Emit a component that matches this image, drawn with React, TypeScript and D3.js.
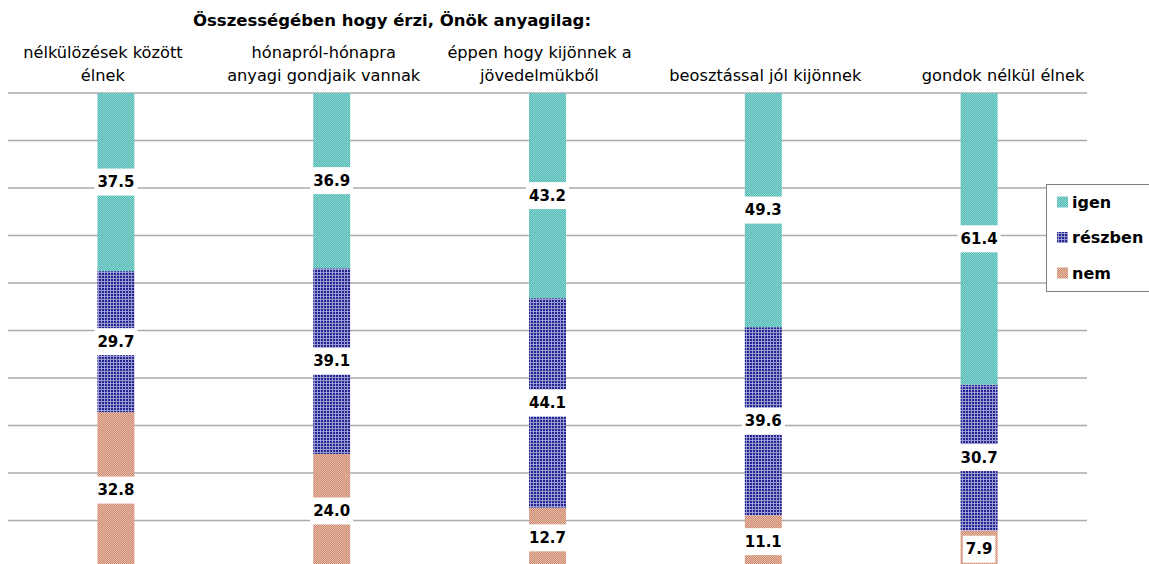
import React, { useEffect, useRef } from "react";
import * as d3 from "d3";

const categories = [
  ["nélkülözések között", "élnek"],
  ["hónapról-hónapra", "anyagi gondjaik vannak"],
  ["éppen hogy kijönnek a", "jövedelmükből"],
  ["beosztással jól kijönnek"],
  ["gondok nélkül élnek"],
];
const seriesNames = ["nem", "részben", "igen"];
const nemValues = [32.8, 24.0, 12.7, 11.1, 7.9];
const reszbenValues = [29.7, 39.1, 44.1, 39.6, 30.7];
const igenValues = [37.5, 36.9, 43.2, 49.3, 61.4];
const gridTicks = [10, 20, 30, 40, 50, 60, 70, 80, 90, 100];
const title = "Összességében hogy érzi, Önök anyagilag:";

// layout: horizontal shift of each category caption relative to its bar
const captionShift = [-13, -8, -8, 2, 24];

const W = 1149;
const H = 564;

export default function App() {
  const ref = useRef<SVGSVGElement>(null);

  useEffect(() => {
    const svg = d3.select(ref.current!);
    svg.selectAll("*").remove();

    const defs = svg.append("defs");
    const p1 = defs.append("pattern").attr("id", "p-igen").attr("width", 2).attr("height", 2).attr("patternUnits", "userSpaceOnUse");
    p1.append("rect").attr("width", 2).attr("height", 2).attr("fill", "#52b8b4");
    p1.append("rect").attr("width", 1).attr("height", 1).attr("fill", "#8ed6d2");
    p1.append("rect").attr("x", 1).attr("y", 1).attr("width", 1).attr("height", 1).attr("fill", "#8ed6d2");
    const p2 = defs.append("pattern").attr("id", "p-reszben").attr("width", 3).attr("height", 3).attr("patternUnits", "userSpaceOnUse");
    p2.append("rect").attr("width", 3).attr("height", 3).attr("fill", "#9a9ad2");
    p2.append("rect").attr("width", 2).attr("height", 2).attr("fill", "#25258f");
    const p3 = defs.append("pattern").attr("id", "p-nem").attr("width", 2).attr("height", 2).attr("patternUnits", "userSpaceOnUse");
    p3.append("rect").attr("width", 2).attr("height", 2).attr("fill", "#cc8c72");
    p3.append("rect").attr("width", 1).attr("height", 1).attr("fill", "#e9bba6");
    p3.append("rect").attr("x", 1).attr("y", 1).attr("width", 1).attr("height", 1).attr("fill", "#e9bba6");

    const fills: Record<string, string> = {
      nem: "url(#p-nem)",
      "részben": "url(#p-reszben)",
      igen: "url(#p-igen)",
    };

    const plotLeft = 8;
    const plotRight = 1087;
    const y = d3.scaleLinear().domain([0, 100]).range([568, 93]);
    const x = d3
      .scaleBand<number>()
      .domain(d3.range(categories.length))
      .range([plotLeft, plotRight])
      .paddingInner(0)
      .paddingOuter(0);
    const barW = 37;

    svg
      .append("g")
      .selectAll("line")
      .data(gridTicks)
      .join("line")
      .attr("x1", plotLeft)
      .attr("x2", plotRight)
      .attr("y1", (d) => y(d))
      .attr("y2", (d) => y(d))
      .attr("stroke", "#ababab")
      .attr("stroke-width", 1.5);

    const table = categories.map((c, i) => ({
      i,
      nem: nemValues[i],
      "részben": reszbenValues[i],
      igen: igenValues[i],
    }));
    const stack = d3.stack<any>().keys(seriesNames)(table);

    const bars = svg.append("g");
    stack.forEach((layer) => {
      bars
        .append("g")
        .selectAll("rect")
        .data(layer)
        .join("rect")
        .attr("x", (d: any) => x(d.data.i)! + x.bandwidth() / 2 - barW / 2)
        .attr("width", barW)
        .attr("y", (d: any) => y(d[1]))
        .attr("height", (d: any) => y(d[0]) - y(d[1]))
        .attr("fill", fills[layer.key]);
    });

    const lab = svg.append("g");
    stack.forEach((layer) => {
      layer.forEach((d: any) => {
        const cx = x(d.data.i)! + x.bandwidth() / 2;
        const cy = (y(d[0]) + y(d[1])) / 2;
        const g = lab.append("g");
        const r = g.append("rect").attr("fill", "#ffffff");
        const t = g
          .append("text")
          .attr("x", cx)
          .attr("y", cy)
          .attr("text-anchor", "middle")
          .attr("dominant-baseline", "central")
          .attr("font-family", "DejaVu Sans")
          .attr("font-weight", "bold")
          .attr("font-size", 15)
          .attr("fill", "#000")
          .text((d.data[layer.key] as number).toFixed(1));
        const w = (t.node() as SVGTextElement).getComputedTextLength();
        r.attr("x", cx - w / 2 - 3)
          .attr("width", w + 6)
          .attr("y", cy - 13.5)
          .attr("height", 27);
      });
    });

    const cat = svg.append("g");
    categories.forEach((lines, i) => {
      const cx = x(i)! + x.bandwidth() / 2 + captionShift[i];
      const t = cat
        .append("text")
        .attr("text-anchor", "middle")
        .attr("font-family", "DejaVu Sans")
        .attr("font-size", 16.2)
        .attr("fill", "#000");
      const n = lines.length;
      lines.forEach((ln, k) => {
        t.append("tspan")
          .attr("x", cx)
          .attr("y", 81 - (n - 1 - k) * 23)
          .text(ln);
      });
    });

    svg
      .append("text")
      .attr("x", 392)
      .attr("y", 26)
      .attr("text-anchor", "middle")
      .attr("font-family", "DejaVu Sans")
      .attr("font-weight", "bold")
      .attr("font-size", 16.5)
      .text(title);

    const lg = svg.append("g");
    lg.append("rect")
      .attr("x", 1046.5)
      .attr("y", 184.5)
      .attr("width", 120)
      .attr("height", 107)
      .attr("fill", "#fff")
      .attr("stroke", "#808080")
      .attr("stroke-width", 1);
    const legendOrder = ["igen", "részben", "nem"];
    legendOrder.forEach((k, j) => {
      const cy = 202 + j * 35.5;
      lg.append("rect")
        .attr("x", 1057)
        .attr("y", cy - 5.5)
        .attr("width", 11)
        .attr("height", 11)
        .attr("fill", fills[k]);
      lg.append("text")
        .attr("x", 1072)
        .attr("y", cy)
        .attr("dominant-baseline", "central")
        .attr("font-family", "DejaVu Sans")
        .attr("font-weight", "bold")
        .attr("font-size", 16)
        .text(k);
    });
  }, []);

  return (
    <svg
      ref={ref}
      width={W}
      height={H}
      style={{ position: "absolute", left: 0, top: 0, background: "#fff" }}
    />
  );
}
